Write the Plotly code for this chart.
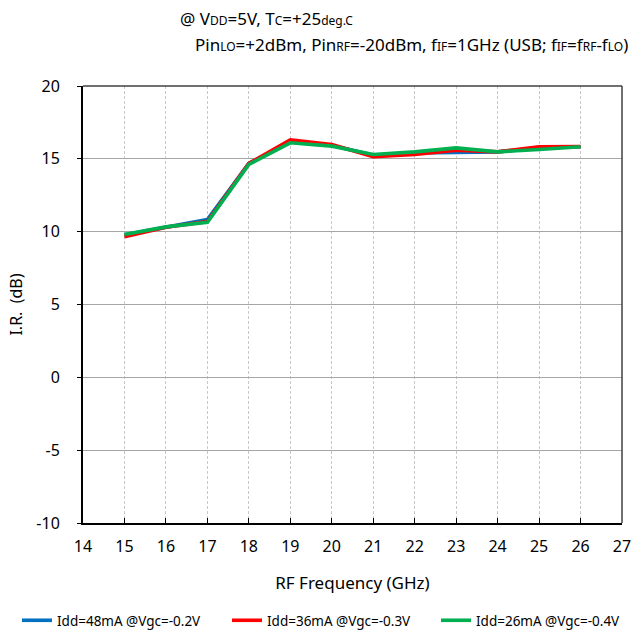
import plotly.graph_objects as go

freq = [15, 16, 17, 18, 19, 20, 21, 22, 23, 24, 25, 26]
ir_48mA = [9.78, 10.33, 10.83, 14.68, 16.2, 15.93, 15.25, 15.4, 15.46, 15.48, 15.75, 15.83]
ir_36mA = [9.66, 10.3, 10.7, 14.68, 16.3, 15.99, 15.14, 15.3, 15.6, 15.48, 15.83, 15.85]
ir_26mA = [9.81, 10.33, 10.64, 14.62, 16.1, 15.87, 15.3, 15.48, 15.75, 15.48, 15.64, 15.83]

x_ticks = [14, 15, 16, 17, 18, 19, 20, 21, 22, 23, 24, 25, 26, 27]
y_ticks = [-10, -5, 0, 5, 10, 15, 20]

names = ["Idd=48mA @Vgc=-0.2V", "Idd=36mA @Vgc=-0.3V", "Idd=26mA @Vgc=-0.4V"]
colors = ["#0070C0", "#FF0000", "#00B050"]
series = [ir_48mA, ir_36mA, ir_26mA]
legend_ids = ["legend", "legend2", "legend3"]
legend_px = [17, 227, 436]

font = "Tahoma, Noto Sans, DejaVu Sans, sans-serif"

fig = go.Figure()
for n, c, s, lg in zip(names, colors, series, legend_ids):
    fig.add_trace(go.Scatter(x=freq, y=s, mode="lines", name=n, legend=lg,
                             line=dict(color=c, width=3.6)))

L, R, T, B = 83, 622, 86, 523
W = R - L
H = B - T

def legend_cfg(px):
    return dict(orientation="h", x=(px - L) / W, xref="paper", y=-(605 - B) / H,
                yanchor="top", xanchor="left", font=dict(size=13.5, family=font),
                bgcolor="rgba(0,0,0,0)")

fig.update_layout(
    width=636, height=632,
    margin=dict(l=L, r=636 - R, t=T, b=632 - B, autoexpand=False),
    paper_bgcolor="white", plot_bgcolor="white",
    font=dict(family=font, color="black", size=16),
    showlegend=True,
    legend=legend_cfg(legend_px[0]),
    legend2=legend_cfg(legend_px[1]),
    legend3=legend_cfg(legend_px[2]),
    xaxis=dict(range=[14, 27], tickvals=x_ticks, ticktext=[str(v) for v in x_ticks],
               showgrid=True, gridcolor="#C8C8C8", griddash="3px,2px", gridwidth=1,
               showline=True, linecolor="black", linewidth=2,
               ticks="inside", ticklen=5, tickcolor="black", ticklabelstandoff=8,
               tickfont=dict(size=16), zeroline=False,
               title=dict(text="RF Frequency (GHz)", font=dict(size=17), standoff=21)),
    yaxis=dict(range=[-10, 20], tickvals=y_ticks, ticktext=[str(v) for v in y_ticks],
               showgrid=True, gridcolor="#A6A6A6", gridwidth=1,
               showline=True, linecolor="black", linewidth=2,
               ticks="outside", ticklen=4, tickcolor="black", ticklabelstandoff=14,
               tickfont=dict(size=16), zeroline=False,
               title=dict(text="I.R.  (dB)", font=dict(size=16), standoff=10)),
)

# top & right frame
fig.add_shape(type="line", xref="paper", yref="paper", x0=0, x1=1, y0=1, y1=1,
              line=dict(color="#404040", width=1.5))
fig.add_shape(type="line", xref="paper", yref="paper", x0=1, x1=1, y0=0, y1=1,
              line=dict(color="#404040", width=1.5))

sub = lambda t: '<span style="font-size:12px">' + t + '</span>'
line1 = "@ V" + sub("DD") + "=5V, T" + sub("C") + "=+25" + sub("deg.C")
line2 = ("Pin" + sub("LO") + "=+2dBm, Pin" + sub("RF") + "=-20dBm, f" + sub("IF") +
         "=1GHz (USB; f" + sub("IF") + "=f" + sub("RF") + "-f" + sub("LO") + ")")
fig.add_annotation(text=line1, xref="paper", yref="paper", x=(178 - L) / W, y=1 + (T - 18) / H,
                   xanchor="left", yanchor="middle", showarrow=False, font=dict(size=17))
fig.add_annotation(text=line2, xref="paper", yref="paper", x=(193 - L) / W, y=1 + (T - 45) / H,
                   xanchor="left", yanchor="middle", showarrow=False, font=dict(size=17))

fig.write_html("out.html", config={"displayModeBar": False},
               post_script="document.body.style.margin='0px';")
